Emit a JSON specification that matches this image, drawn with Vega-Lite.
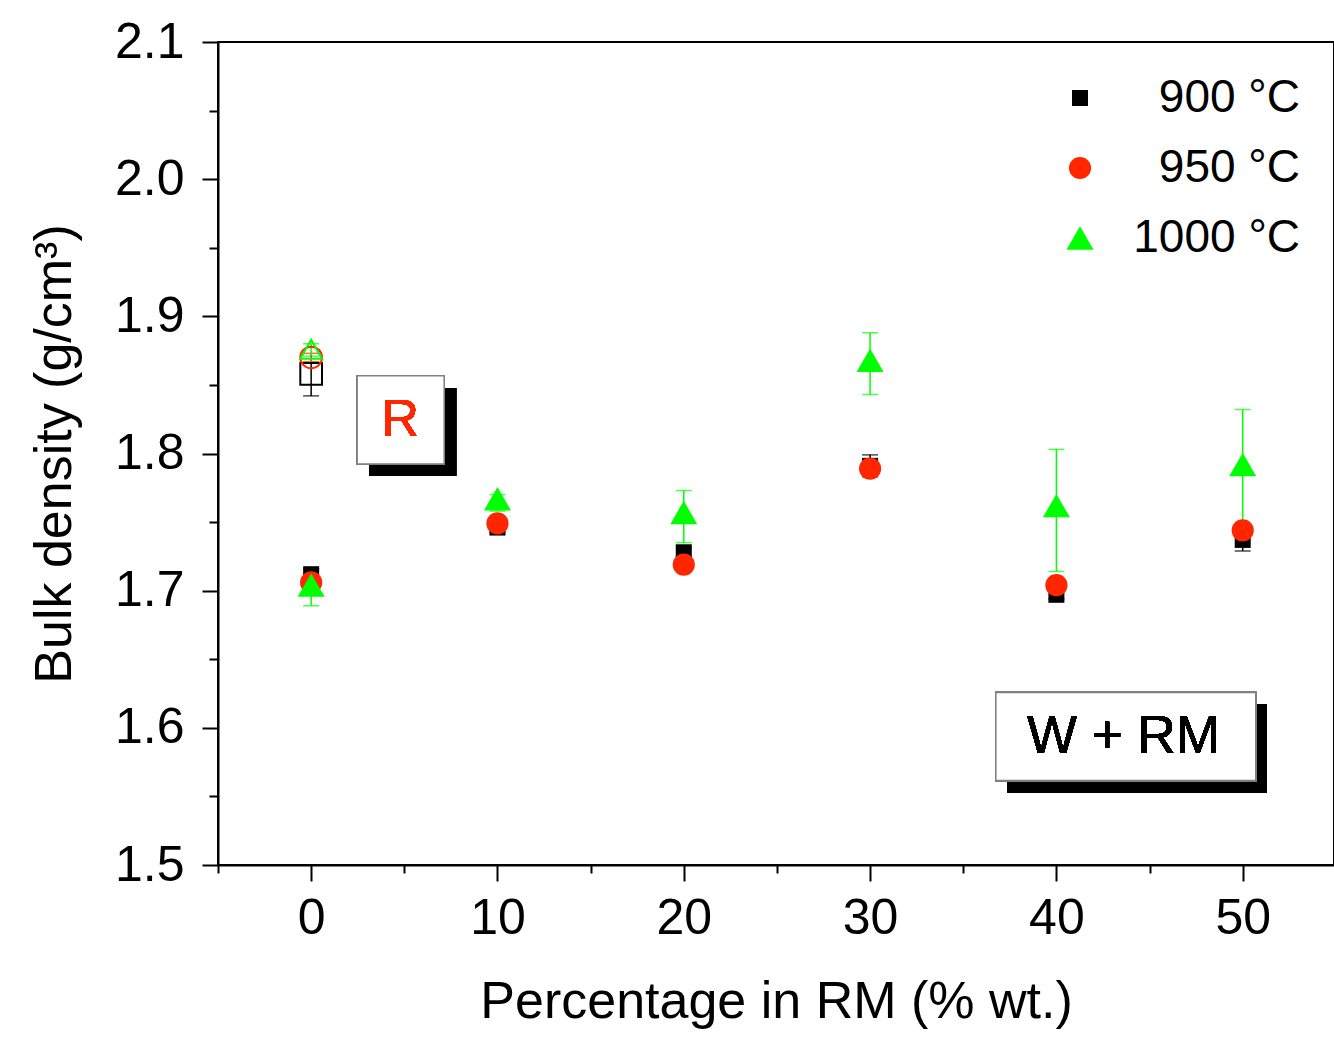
{
  "$schema": "https://vega.github.io/schema/vega-lite/v6.json",
  "width": 1116,
  "height": 823,
  "autosize": "none",
  "padding": {"left": 218, "top": 42, "right": 0, "bottom": 172},
  "background": "white",
  "config": {
    "font": "Liberation Sans",
    "view": {"stroke": "black", "strokeWidth": 2},
    "axis": {
      "grid": false,
      "domainColor": "black",
      "domainWidth": 2,
      "tickColor": "black",
      "tickWidth": 2,
      "labelColor": "black",
      "titleColor": "black",
      "labelFont": "Liberation Sans",
      "titleFont": "Liberation Sans",
      "titleFontWeight": "normal",
      "labelFontSize": 50,
      "titleFontSize": 52
    },
    "legend": {
      "title": null,
      "orient": "none",
      "legendX": 839,
      "legendY": 33,
      "padding": 0,
      "labelFontSize": 46,
      "labelFont": "Liberation Sans",
      "labelColor": "black",
      "labelAlign": "right",
      "labelOffset": 197,
      "labelLimit": 400,
      "rowPadding": 24,
      "symbolStrokeWidth": 0,
      "symbolOpacity": 1
    }
  },
  "datasets": {
    "pts": [
      {"sample": "W+RM", "temp": "900 °C", "x": 0, "y": 1.712, "lo": 1.708, "hi": 1.716},
      {"sample": "W+RM", "temp": "900 °C", "x": 10, "y": 1.746, "lo": 1.743, "hi": 1.749},
      {"sample": "W+RM", "temp": "900 °C", "x": 20, "y": 1.728, "lo": 1.725, "hi": 1.731},
      {"sample": "W+RM", "temp": "900 °C", "x": 30, "y": 1.791, "lo": 1.783, "hi": 1.799},
      {"sample": "W+RM", "temp": "900 °C", "x": 40, "y": 1.697, "lo": 1.694, "hi": 1.700},
      {"sample": "W+RM", "temp": "900 °C", "x": 50, "y": 1.737, "lo": 1.729, "hi": 1.745},
      {"sample": "W+RM", "temp": "950 °C", "x": 0, "y": 1.706, "lo": 1.703, "hi": 1.709},
      {"sample": "W+RM", "temp": "950 °C", "x": 10, "y": 1.749, "lo": 1.746, "hi": 1.752},
      {"sample": "W+RM", "temp": "950 °C", "x": 20, "y": 1.719, "lo": 1.716, "hi": 1.722},
      {"sample": "W+RM", "temp": "950 °C", "x": 30, "y": 1.789, "lo": 1.786, "hi": 1.792},
      {"sample": "W+RM", "temp": "950 °C", "x": 40, "y": 1.704, "lo": 1.701, "hi": 1.707},
      {"sample": "W+RM", "temp": "950 °C", "x": 50, "y": 1.744, "lo": 1.741, "hi": 1.747},
      {"sample": "W+RM", "temp": "1000 °C", "x": 0, "y": 1.704, "lo": 1.689, "hi": 1.716},
      {"sample": "W+RM", "temp": "1000 °C", "x": 10, "y": 1.767, "lo": 1.758, "hi": 1.770},
      {"sample": "W+RM", "temp": "1000 °C", "x": 20, "y": 1.757, "lo": 1.735, "hi": 1.773},
      {"sample": "W+RM", "temp": "1000 °C", "x": 30, "y": 1.868, "lo": 1.843, "hi": 1.888},
      {"sample": "W+RM", "temp": "1000 °C", "x": 40, "y": 1.762, "lo": 1.714, "hi": 1.803},
      {"sample": "W+RM", "temp": "1000 °C", "x": 50, "y": 1.792, "lo": 1.744, "hi": 1.832},
      {"sample": "R", "temp": "900 °C", "x": 0, "y": 1.858, "lo": 1.842, "hi": 1.866},
      {"sample": "R", "temp": "950 °C", "x": 0, "y": 1.870, "lo": 1.867, "hi": 1.873},
      {"sample": "R", "temp": "1000 °C", "x": 0, "y": 1.876, "lo": 1.871, "hi": 1.880}
    ]
  },
  "data": {"name": "pts"},
  "encoding": {
    "x": {
      "field": "x",
      "type": "quantitative",
      "scale": {"domain": [-5, 54.9], "nice": false, "zero": false},
      "axis": {
        "title": "Percentage in RM (% wt.)",
        "values": [-5, 0, 5, 10, 15, 20, 25, 30, 35, 40, 45, 50],
        "labelExpr": "datum.value % 10 == 0 ? datum.label : ''",
        "format": "d",
        "tickSize": {"condition": {"test": "datum.value % 10 == 0", "value": 16}, "value": 8},
        "labelPadding": 12,
        "titlePadding": 33
      }
    },
    "y": {
      "field": "y",
      "type": "quantitative",
      "scale": {"domain": [1.5, 2.1], "nice": false, "zero": false},
      "axis": {
        "title": "Bulk density (g/cm³)",
        "values": [1.5, 1.55, 1.6, 1.65, 1.7, 1.75, 1.8, 1.85, 1.9, 1.95, 2.0, 2.05, 2.1],
        "labelExpr": "abs(datum.value * 10 - round(datum.value * 10)) < 0.001 ? format(datum.value, '.1f') : ''",
        "tickSize": {"condition": {"test": "abs(datum.value * 10 - round(datum.value * 10)) < 0.001", "value": 16}, "value": 9},
        "labelPadding": 18,
        "titlePadding": 33
      }
    },
    "color": {
      "field": "temp", "type": "nominal",
      "scale": {"domain": ["900 °C", "950 °C", "1000 °C"], "range": ["#000000", "#ff2600", "#00ff00"]}
    }
  },
  "layer": [
    {
      "mark": {"type": "rect", "color": "black"},
      "encoding": {
        "color": {"value": "black"},
        "x": {"datum": 3.11, "type": "quantitative"},
        "x2": {"datum": 7.78},
        "y": {"datum": 1.8478, "type": "quantitative"},
        "y2": {"datum": 1.7837}
      }
    },
    {
      "mark": {"type": "rect", "fill": "white", "stroke": "#808080", "strokeWidth": 1.5},
      "encoding": {
        "color": {"value": "white"},
        "x": {"datum": 2.47, "type": "quantitative"},
        "x2": {"datum": 7.14},
        "y": {"datum": 1.8566, "type": "quantitative"},
        "y2": {"datum": 1.7924}
      }
    },
    {
      "mark": {"type": "text", "text": "R", "fontSize": 52, "font": "Liberation Sans", "align": "center", "baseline": "middle"},
      "encoding": {
        "color": {"value": "#ff2600"},
        "x": {"datum": 4.78, "type": "quantitative"},
        "y": {"datum": 1.8245, "type": "quantitative"}
      }
    },
    {
      "mark": {"type": "rect", "color": "black"},
      "encoding": {
        "color": {"value": "black"},
        "x": {"datum": 37.39, "type": "quantitative"},
        "x2": {"datum": 51.29},
        "y": {"datum": 1.6168, "type": "quantitative"},
        "y2": {"datum": 1.5528}
      }
    },
    {
      "mark": {"type": "rect", "fill": "white", "stroke": "#808080", "strokeWidth": 1.5},
      "encoding": {
        "color": {"value": "white"},
        "x": {"datum": 36.75, "type": "quantitative"},
        "x2": {"datum": 50.7},
        "y": {"datum": 1.6257, "type": "quantitative"},
        "y2": {"datum": 1.5616}
      }
    },
    {
      "mark": {"type": "text", "text": "W + RM", "fontSize": 53, "font": "Liberation Sans", "align": "center", "baseline": "middle"},
      "encoding": {
        "color": {"value": "black"},
        "x": {"datum": 43.6, "type": "quantitative"},
        "y": {"datum": 1.5934, "type": "quantitative"}
      }
    },
    {
      "mark": {"type": "errorbar", "thickness": 1.5, "ticks": {"size": 16, "thickness": 1.5}},
      "encoding": {
        "y": {"field": "lo", "type": "quantitative"},
        "y2": {"field": "hi"}
      }
    },
    {
      "transform": [{"filter": "datum.sample == 'W+RM'"}],
      "mark": {"type": "point", "filled": true, "opacity": 1},
      "encoding": {
        "shape": {
          "field": "temp", "type": "nominal",
          "scale": {"domain": ["900 °C", "950 °C", "1000 °C"], "range": ["square", "circle", "triangle-up"]}
        },
        "size": {
          "field": "temp", "type": "nominal",
          "scale": {"domain": ["900 °C", "950 °C", "1000 °C"], "range": [256, 729, 1024]}
        }
      }
    },
    {
      "transform": [{"filter": "datum.sample == 'R'"}],
      "mark": {"type": "point", "filled": false, "strokeWidth": 2, "opacity": 1, "size": 470},
      "encoding": {
        "shape": {"field": "temp", "type": "nominal"}
      }
    }
  ]
}
